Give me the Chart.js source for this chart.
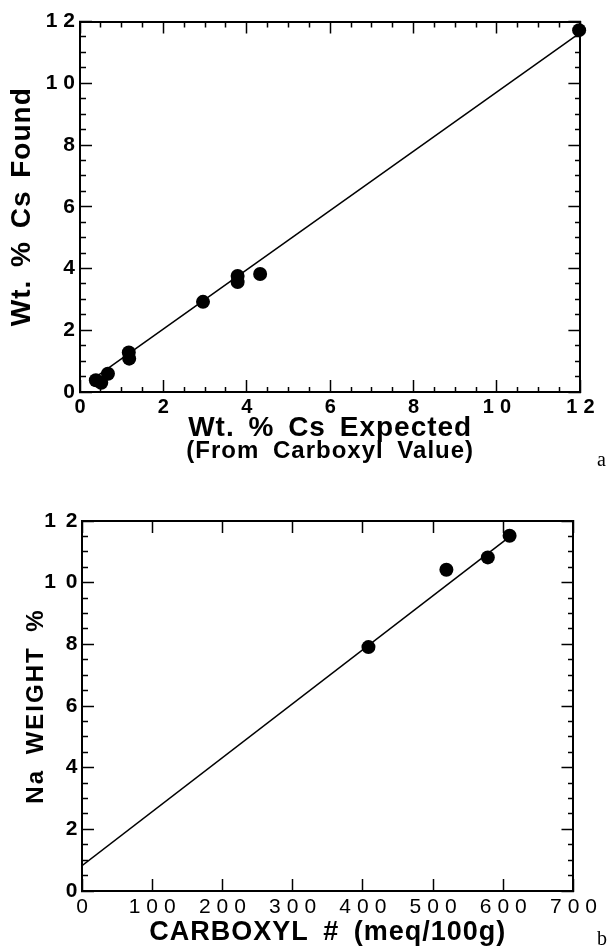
<!DOCTYPE html>
<html><head><meta charset="utf-8">
<script src="https://cdn.jsdelivr.net/npm/chart.js@4.4.1/dist/chart.umd.min.js"></script>
<style>
html,body{margin:0;padding:0;background:#fff;}
#wrap{position:relative;width:609px;height:948px;overflow:hidden;background:#fff;}
canvas{position:absolute;left:0;}
#c1{top:0;} #c2{top:470px;}
.lab{position:absolute;font-family:"Liberation Serif","Times New Roman",serif;font-size:20px;line-height:20px;color:#000;}
</style></head><body>
<div id="wrap">
<canvas id="c1" width="609" height="470"></canvas>
<canvas id="c2" width="609" height="478"></canvas>
<div class="lab" style="left:597px;top:449px">a</div>
<div class="lab" style="left:597px;top:928px">b</div>
</div>
<script>
// ---- Panel a data ----
const csExpected = [0.38, 0.51, 0.67, 1.17, 1.18, 2.95, 3.78, 3.78, 4.32, 11.97];
const csFound    = [0.38, 0.30, 0.59, 1.28, 1.08, 2.92, 3.76, 3.56, 3.82, 11.72];
const csFitX = [0.35, 12];
const csFitY = [0.46, 11.64];
const csXTickLabels = ['0', '2', '4', '6', '8', '10', '12'];
const csYTickLabels = ['0', '2', '4', '6', '8', '10', '12'];
// ---- Panel b data ----
const carboxyl = [408, 519, 578, 609];
const naWeight = [7.91, 10.42, 10.82, 11.52];
const naFitX = [0, 607];
const naFitY = [0.82, 11.45];
const naXTickLabels = ['0', '100', '200', '300', '400', '500', '600', '700'];
const naYTickLabels = ['0', '2', '4', '6', '8', '10', '12'];

const FONT = '"Liberation Sans", Arial, Helvetica, sans-serif';
Chart.defaults.color = '#000';
Chart.defaults.font.family = FONT;

// letter / word spacing per scale: [letterSpacing, wordSpacing]
const SPACING = {
  'c1:x': {ticks: [6, 0], title: [1, 5]},
  'c1:y': {ticks: [6, 0], title: [1, 4]},
  'c2:x': {ticks: [6, 0], title: [1, 6]},
  'c2:y': {ticks: [10, 0], title: [2, 6]}
};
const GLOBAL_SPACING = {c1: [1, 6], c2: [0, 0]};

function withSpacing(scale, kind, fn) {
  const s = SPACING[scale.chart.canvas.id + ':' + scale.id];
  const ctx = scale.ctx;
  const pl = ctx.letterSpacing, pw = ctx.wordSpacing;
  if (s && s[kind]) { ctx.letterSpacing = s[kind][0] + 'px'; ctx.wordSpacing = s[kind][1] + 'px'; }
  fn();
  ctx.letterSpacing = pl; ctx.wordSpacing = pw;
}
const SP = Chart.Scale.prototype;
const origLabels = SP.drawLabels, origTitle = SP.drawTitle;
SP.drawLabels = function (a) { withSpacing(this, 'ticks', () => origLabels.call(this, a)); };
SP.drawTitle = function () { withSpacing(this, 'title', () => origTitle.call(this)); };

const spacingPlugin = {
  id: 'spacing',
  beforeDraw(chart) {
    const s = GLOBAL_SPACING[chart.canvas.id];
    chart.ctx.letterSpacing = s[0] + 'px';
    chart.ctx.wordSpacing = s[1] + 'px';
  }
};

function isMajor(c, step) {
  if (!c || !c.tick) return true;
  const r = c.tick.value / step;
  return Math.abs(r - Math.round(r)) < 1e-6;
}
// ticks that start at the axis line (bottom / right)
function gridStart(step) {
  return {
    display: true, drawOnChartArea: false, drawTicks: true, tickLength: -12,
    tickWidth: 1.5, tickColor: '#000',
    tickBorderDash: c => isMajor(c, step) ? [] : [6, 100],
    tickBorderDashOffset: 0
  };
}
// ticks that start inside the plot (top / left)
function gridEnd(step) {
  return {
    display: true, drawOnChartArea: false, drawTicks: true, tickLength: -12,
    tickWidth: 1.5, tickColor: '#000',
    tickBorderDash: c => isMajor(c, step) ? [] : [6, 6],
    tickBorderDashOffset: c => isMajor(c, step) ? 0 : 6
  };
}
const BORDER = {display: true, color: '#000', width: 2};
function labelCb(list) { return v => list.includes(String(v)) ? String(v) : ''; }

// ---------------- Panel a ----------------
new Chart(document.getElementById('c1'), {
  type: 'scatter',
  data: {
    datasets: [
      {type: 'line', data: csFitX.map((x, i) => ({x, y: csFitY[i]})), borderColor: '#000', borderWidth: 1.5,
       pointRadius: 0, fill: false, tension: 0, order: 2},
      {data: csExpected.map((x, i) => ({x, y: csFound[i]})), backgroundColor: '#000', borderColor: '#000',
       borderWidth: 0, pointRadius: 7, pointHoverRadius: 7, clip: false, order: 1}
    ]
  },
  options: {
    responsive: false, animation: false, devicePixelRatio: 1, events: [],
    layout: {padding: {left: 0, right: 0, top: 0, bottom: 7}},
    plugins: {
      legend: {display: false}, tooltip: {enabled: false},
      subtitle: {display: true, text: '(From Carboxyl Value)', position: 'bottom', fullSize: false, color: '#000',
                 font: {family: FONT, size: 24, weight: 'bold', lineHeight: 1}, padding: 0}
    },
    scales: {
      x: {
        type: 'linear', position: 'bottom', min: 0, max: 12,
        ticks: {stepSize: 0.5, autoSkip: false, maxTicksLimit: 1000, maxRotation: 0, color: '#000',
                font: {family: FONT, size: 20, weight: 'bold', lineHeight: 1}, padding: 17.5, labelOffset: 3,
                callback: labelCb(csXTickLabels)},
        grid: gridStart(2), border: BORDER,
        title: {display: true, text: 'Wt. % Cs Expected', color: '#000',
                font: {family: FONT, size: 28, weight: 'bold', lineHeight: 0.8}, padding: 0},
        afterFit: s => { s.height = 47; }
      },
      x2: {
        type: 'linear', position: 'top', min: 0, max: 12,
        ticks: {display: false, stepSize: 0.5, autoSkip: false, maxTicksLimit: 1000},
        grid: gridEnd(2), border: BORDER,
        afterFit: s => { s.height = 21; }
      },
      y: {
        type: 'linear', position: 'left', min: 0, max: 12,
        ticks: {stepSize: 0.5, autoSkip: false, maxTicksLimit: 1000, color: '#000',
                font: {family: FONT, size: 21, weight: 'bold', lineHeight: 1}, padding: 11,
                callback: labelCb(csYTickLabels)},
        grid: gridEnd(2), border: BORDER,
        title: {display: true, text: 'Wt. % Cs Found', color: '#000',
                font: {family: FONT, size: 28, weight: 'bold', lineHeight: 1}, padding: {top: 8.5, bottom: 0}},
        afterFit: s => { s.width = 80; }
      },
      y2: {
        type: 'linear', position: 'right', min: 0, max: 12,
        ticks: {display: false, stepSize: 0.5, autoSkip: false, maxTicksLimit: 1000},
        grid: gridStart(2), border: BORDER,
        afterFit: s => { s.width = 22; }
      }
    }
  },
  plugins: [spacingPlugin]
});

// ---------------- Panel b ----------------
new Chart(document.getElementById('c2'), {
  type: 'scatter',
  data: {
    datasets: [
      {type: 'line', data: naFitX.map((x, i) => ({x, y: naFitY[i]})), borderColor: '#000', borderWidth: 1.5,
       pointRadius: 0, fill: false, tension: 0, order: 2},
      {data: carboxyl.map((x, i) => ({x, y: naWeight[i]})), backgroundColor: '#000', borderColor: '#000',
       borderWidth: 0, pointRadius: 7, pointHoverRadius: 7, clip: false, order: 1}
    ]
  },
  options: {
    responsive: false, animation: false, devicePixelRatio: 1, events: [],
    layout: {padding: {left: 0, right: 0, top: 0, bottom: 2}},
    plugins: {legend: {display: false}, tooltip: {enabled: false}},
    scales: {
      x: {
        type: 'linear', position: 'bottom', min: 0, max: 700,
        ticks: {stepSize: 100, autoSkip: false, maxTicksLimit: 1000, maxRotation: 0, color: '#000',
                font: {family: FONT, size: 21, weight: 'normal', lineHeight: 1}, padding: 18, labelOffset: 3,
                callback: labelCb(naXTickLabels)},
        grid: gridStart(100), border: BORDER,
        title: {display: true, text: 'CARBOXYL # (meq/100g)', color: '#000',
                font: {family: FONT, size: 27, weight: 'bold', lineHeight: 1}, padding: 0},
        afterFit: s => { s.height = 55; }
      },
      x2: {
        type: 'linear', position: 'top', min: 0, max: 700,
        ticks: {display: false, stepSize: 100, autoSkip: false, maxTicksLimit: 1000},
        grid: gridEnd(100), border: BORDER,
        afterFit: s => { s.height = 51; }
      },
      y: {
        type: 'linear', position: 'left', min: 0, max: 12,
        ticks: {stepSize: 0.5, autoSkip: false, maxTicksLimit: 1000, color: '#000',
                font: {family: FONT, size: 21, weight: 'bold', lineHeight: 1}, padding: 6.5,
                callback: labelCb(naYTickLabels)},
        grid: gridEnd(2), border: BORDER,
        title: {display: true, text: 'Na WEIGHT %', color: '#000',
                font: {family: FONT, size: 24, weight: 'bold', lineHeight: 1}, padding: {top: 24.5, bottom: 0}},
        afterFit: s => { s.width = 82; }
      },
      y2: {
        type: 'linear', position: 'right', min: 0, max: 12,
        ticks: {display: false, stepSize: 0.5, autoSkip: false, maxTicksLimit: 1000},
        grid: gridStart(2), border: BORDER,
        afterFit: s => { s.width = 24; }
      }
    }
  },
  plugins: [spacingPlugin]
});
</script>
</body></html>
